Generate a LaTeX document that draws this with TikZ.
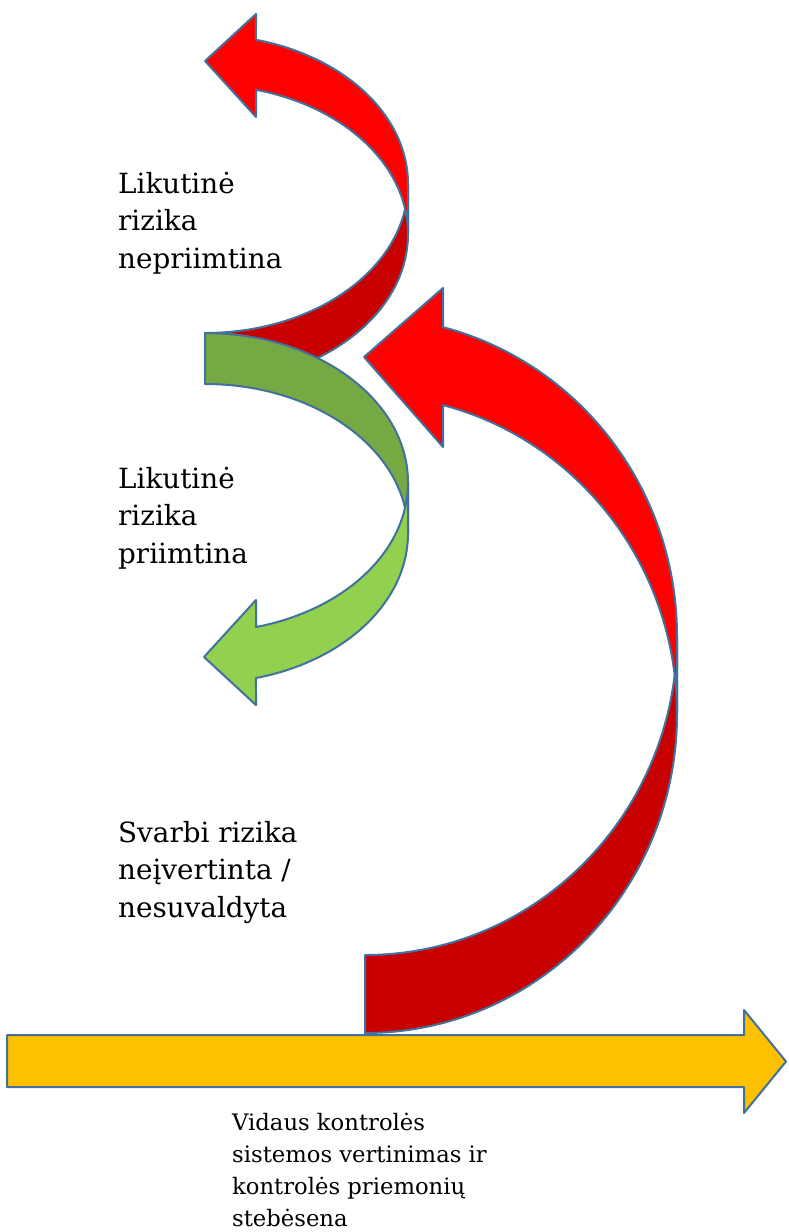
\documentclass[tikz,border=0pt]{standalone}
\usepackage{fontspec}
\setmainfont{DejaVu Serif}

\definecolor{rimblue}{HTML}{41719C}
\definecolor{redfront}{HTML}{FF0000}
\definecolor{redback}{HTML}{C80000}
\definecolor{greenfront}{HTML}{92D050}
\definecolor{greenback}{HTML}{76A843}
\definecolor{timeline}{HTML}{FFC000}

\begin{document}
\begin{tikzpicture}[x=1pt,y=-1pt,
    band/.style={draw=rimblue, line width=2pt, line join=round},
    riskname/.style={anchor=base west, align=left, inner sep=0pt,
      font=\fontsize{27.8}{37.5}\selectfont},
    stepnote/.style={anchor=base west, align=left, inner sep=0pt,
      font=\fontsize{22.7}{32}\selectfont}]
  \useasboundingbox (0,0) rectangle (788,1232);

  % time line
  \draw[band, fill=timeline] (7,1035) -- (744,1035) -- (744,1010) -- (786,1061.5)
    -- (744,1113) -- (744,1087) -- (7,1087) -- cycle;

  % upper red arrow
  \draw[band, fill=redback] (205,333) arc[start angle=90, end angle=0, x radius=203, y radius=149]
    -- (408,234) arc[start angle=0, end angle=90, x radius=203, y radius=149] -- cycle;
  \draw[band, fill=redfront] (408,184) arc[start angle=0, end angle=-75.45, x radius=203, y radius=149]
    -- (256,14) -- (205,61) -- (256,117) -- (256,89.8)
    arc[start angle=-75.45, end angle=0, x radius=203, y radius=149] -- cycle;

  % green arrow
  \draw[band, fill=greenback] (205,333) arc[start angle=-90, end angle=0, x radius=203, y radius=149.4]
    -- (408,533.4) arc[start angle=0, end angle=-90, x radius=203, y radius=149.4] -- cycle;
  \draw[band, fill=greenfront] (408,482.4) -- (408,533.4)
    arc[start angle=0, end angle=75.45, x radius=203, y radius=149.4]
    -- (256,705) -- (204,657) -- (256,600) -- (256,627)
    arc[start angle=75.45, end angle=0, x radius=203, y radius=149.4] -- cycle;

  % big red arrow
  \draw[band, fill=redback] (365,955) arc[start angle=90, end angle=0, x radius=312, y radius=319]
    -- (677,714) arc[start angle=0, end angle=90, x radius=312, y radius=319] -- cycle;
  \draw[band, fill=redfront] (677,636) arc[start angle=0, end angle=-75.52, x radius=312, y radius=319]
    -- (443,288) -- (364,357) -- (443,447) -- (443,405.1)
    arc[start angle=-75.52, end angle=0, x radius=312, y radius=319] -- cycle;

  % labels (base = last line)
  \node[riskname] (unaccepted) at (118,268) {Likutinė\\rizika\\nepriimtina};
  \node[riskname] (accepted) at (118,563) {Likutinė\\rizika\\priimtina};
  \node[riskname] (unassessed) at (118,917) {Svarbi rizika\\neįvertinta /\\nesuvaldyta};
  \node[stepnote] (monitoring) at (232,1226) {Vidaus kontrolės\\sistemos vertinimas ir\\kontrolės priemonių\\stebėsena};
\end{tikzpicture}
\end{document}
